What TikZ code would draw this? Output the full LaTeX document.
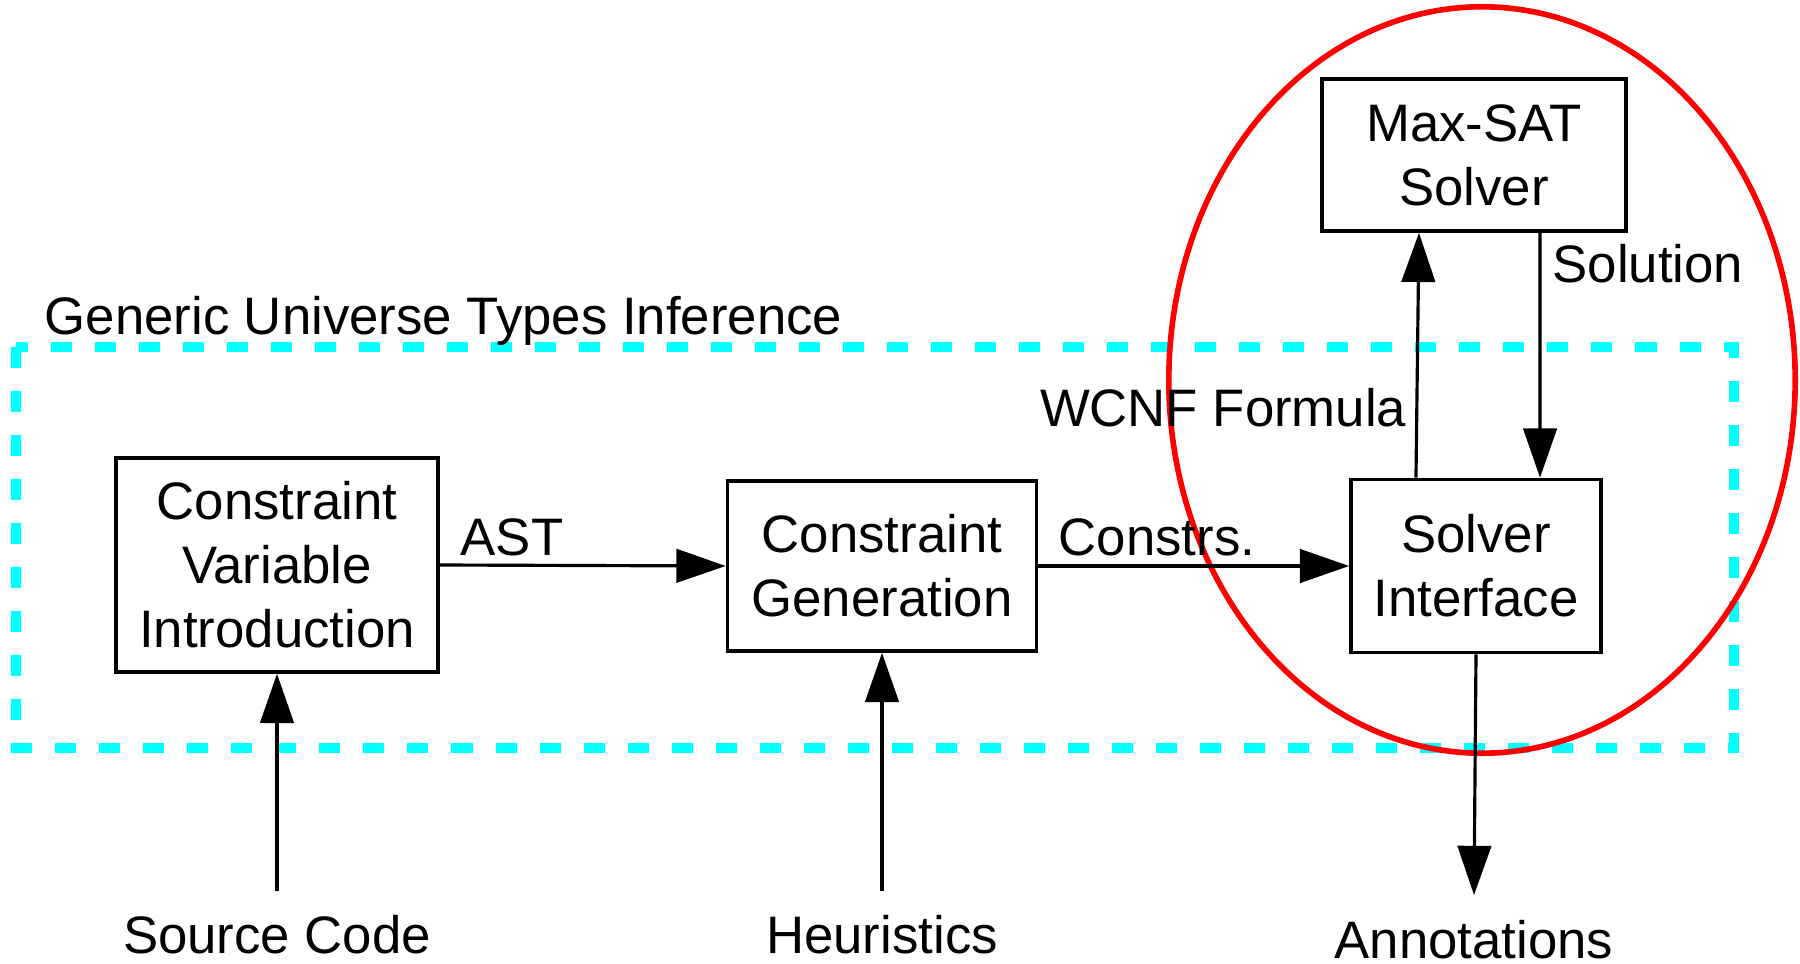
\documentclass[tikz,border=0pt]{standalone}
\usepackage{fontspec}
\setmainfont{Liberation Sans}
\usetikzlibrary{arrows.meta}
\definecolor{aqua}{RGB}{0,255,255}
\definecolor{ringred}{RGB}{255,0,0}

\begin{document}
\begin{tikzpicture}[x=0.01cm,y=-0.01cm,
  every node/.style={font=\fontsize{15}{18.2}\selectfont},
  blk/.style={draw,line width=1pt,align=center,inner sep=0pt},
  lbl/.style={inner sep=0pt},
  flow/.style={line width=0.9pt,-{Triangle[length=14pt,width=9.5pt]}}]
\useasboundingbox (0,0) rectangle (1800,964);
% inference part
\draw[aqua,line width=3pt,dash pattern=on 0.21cm off 0.23cm] (16,347) rectangle (1734,748);
\node[lbl,anchor=base west] (gut) at (44,335) {Generic Universe Types Inference};
% solver part
\draw[ringred,line width=1.6pt] (1482,380) ellipse [x radius=3.13cm,y radius=3.73cm];
\node[blk,minimum width=3.22cm,minimum height=2.14cm] (cvi) at (277,565) {Constraint\\Variable\\Introduction};
\node[blk,minimum width=3.09cm,minimum height=1.70cm] (cgen) at (882,566) {Constraint\\Generation};
\node[blk,minimum width=2.50cm,minimum height=1.73cm] (solif) at (1476,566) {Solver\\Interface};
\node[blk,minimum width=3.04cm,minimum height=1.52cm] (maxsat) at (1474,155) {Max-SAT\\Solver};
\node[lbl,anchor=base] (src) at (277,953) {Source Code};
\node[lbl,anchor=base] (heur) at (882,953) {Heuristics};
\node[lbl,anchor=base] (annot) at (1474,958) {Annotations};
% arrows
\draw[flow] ([yshift=0.23cm]src.north) -- (cvi.south);
\draw[flow] ([yshift=0.23cm]heur.north) -- (cgen.south);
\draw[flow] (cvi.east) -- (cgen.west);
\draw[flow] (cgen.east) -- (solif.west);
\draw[flow] ([xshift=-0.6cm]solif.north) -- ([xshift=-0.55cm]maxsat.south);
\draw[flow] ([xshift=0.66cm]maxsat.south) -- ([xshift=0.64cm]solif.north);
\draw[flow] (solif.south) -- ([yshift=0.24cm]annot.north);
\node[lbl,anchor=base west] (ast) at (460,555) {AST};
\node[lbl,anchor=base west] (cons) at (1058,555) {Constrs.};
\node[lbl,anchor=base east] (wcnf) at (1407,426) {WCNF Formula};
\node[lbl,anchor=base west] (sol) at (1552,283) {Solution};
\end{tikzpicture}
\end{document}
